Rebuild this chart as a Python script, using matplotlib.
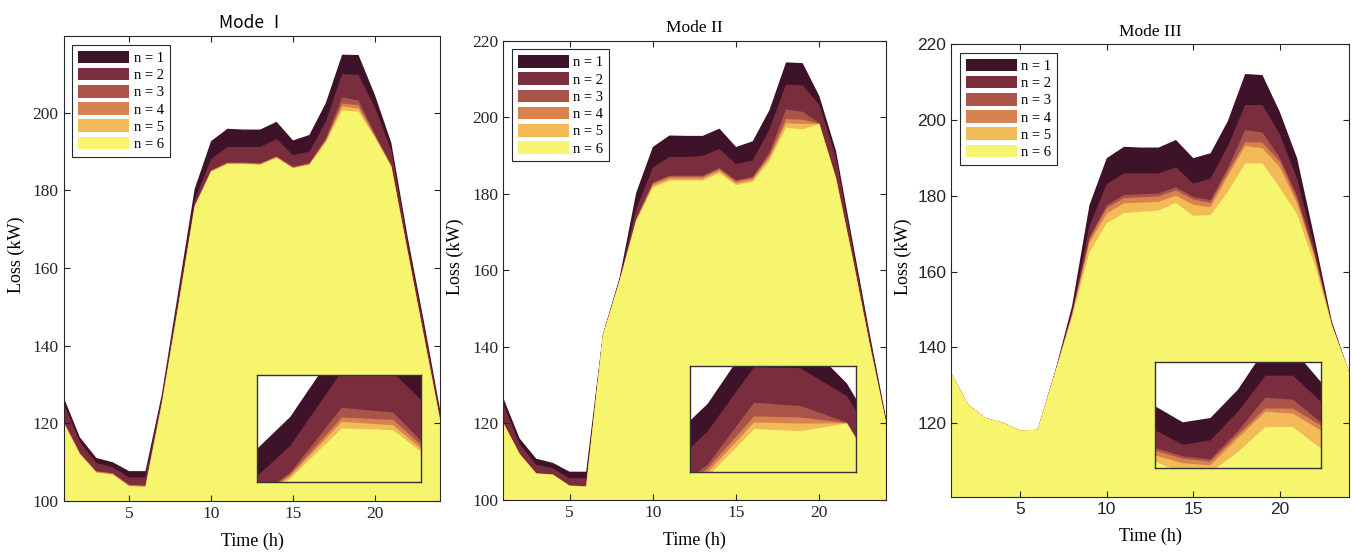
import numpy as np
import matplotlib
matplotlib.use("Agg")
import matplotlib.pyplot as plt
from matplotlib.patches import Patch

hours = list(range(1, 25))
labels = ["n = 1", "n = 2", "n = 3", "n = 4", "n = 5", "n = 6"]
colors = ["#3e1228", "#792d3d", "#ab5449", "#d8834f", "#f2bb58", "#f7f56e"]

# Mode I
m1_n1 = [126.8, 116.4, 111.1, 110.0, 107.7, 107.7, 127.5, 154.0, 180.4, 192.7, 195.9, 195.7,
         195.7, 197.7, 192.9, 194.3, 202.5, 215.0, 214.9, 204.6, 192.3, 168.0, 146.0, 123.0]
m1_n2 = [125.2, 115.2, 109.8, 108.7, 106.1, 106.1, 126.5, 152.5, 177.5, 188.1, 191.2, 191.2,
         191.2, 193.3, 189.1, 190.0, 197.7, 210.0, 209.8, 201.4, 190.4, 166.5, 144.5, 122.0]
m1_n3 = [120.6, 112.4, 107.7, 107.2, 104.2, 104.0, 125.4, 150.4, 176.2, 185.2, 187.2, 187.2,
         187.0, 188.8, 186.1, 187.0, 193.3, 204.0, 203.2, 194.5, 186.5, 164.4, 142.4, 120.6]
m1_n4 = [120.5, 112.3, 107.6, 107.1, 104.1, 103.9, 125.3, 150.3, 176.1, 185.1, 187.1, 187.1,
         186.9, 188.7, 186.0, 186.9, 193.0, 202.4, 202.0, 194.2, 186.4, 164.3, 142.3, 120.5]
m1_n5 = [120.3, 112.1, 107.4, 106.9, 103.9, 103.7, 125.1, 150.1, 175.9, 184.9, 186.9, 186.9,
         186.7, 188.5, 185.8, 186.7, 192.7, 201.7, 201.1, 193.9, 186.2, 164.1, 142.1, 120.3]
m1_n6 = [120.2, 112.0, 107.3, 106.8, 103.8, 103.6, 125.0, 150.0, 175.8, 184.8, 186.8, 186.8,
         186.6, 188.4, 185.7, 186.6, 192.3, 200.6, 200.3, 193.6, 186.1, 164.0, 142.0, 120.2]

# Mode II
m2_n1 = [126.9, 116.1, 110.8, 109.7, 107.4, 107.4, 143.2, 158.0, 180.2, 192.2, 195.2, 195.1,
         195.1, 197.0, 192.2, 193.7, 201.8, 214.3, 214.1, 205.5, 191.2, 167.5, 144.0, 121.5]
m2_n2 = [125.3, 114.6, 109.2, 108.3, 105.7, 105.7, 143.1, 157.6, 176.0, 186.8, 189.6, 189.6,
         189.9, 191.7, 187.7, 188.7, 196.8, 208.5, 208.3, 203.2, 189.4, 166.0, 143.0, 121.0]
m2_n3 = [120.4, 112.1, 107.0, 106.7, 103.8, 103.6, 143.0, 157.3, 173.5, 182.9, 184.7, 184.7,
         184.7, 186.7, 183.5, 184.4, 190.7, 202.0, 201.4, 198.4, 184.3, 163.4, 141.3, 120.4]
m2_n4 = [120.4, 112.1, 107.0, 106.7, 103.8, 103.6, 143.0, 157.2, 173.3, 182.6, 184.4, 184.4,
         184.4, 186.4, 183.2, 184.1, 190.0, 199.5, 199.3, 198.3, 184.2, 163.3, 141.2, 120.4]
m2_n5 = [120.3, 112.0, 106.9, 106.6, 103.7, 103.5, 142.9, 157.1, 173.0, 182.1, 183.9, 183.9,
         183.9, 185.9, 182.7, 183.6, 189.3, 198.4, 198.2, 198.25, 184.1, 163.2, 141.1, 120.3]
m2_n6 = [120.3, 112.0, 106.9, 106.6, 103.7, 103.5, 142.9, 157.1, 172.8, 181.6, 183.4, 183.4,
         183.4, 185.4, 182.2, 183.1, 188.5, 197.2, 196.8, 198.2, 183.9, 163.0, 141.0, 120.3]

# Mode III
m3_n1 = [133.3, 124.9, 121.4, 120.2, 118.1, 118.3, 133.4, 151.0, 177.5, 189.9, 192.9, 192.7,
         192.7, 194.7, 189.9, 191.2, 199.7, 212.1, 211.8, 202.1, 189.9, 169.0, 147.0, 133.5]
m3_n2 = [133.3, 124.9, 121.4, 120.2, 118.1, 118.3, 133.3, 149.5, 172.0, 183.1, 185.9, 185.9,
         185.9, 187.5, 183.2, 184.5, 193.1, 203.9, 203.9, 196.2, 184.5, 166.5, 146.5, 133.5]
m3_n3 = [133.3, 124.9, 121.4, 120.2, 118.1, 118.3, 133.2, 149.0, 169.0, 177.5, 180.2, 180.4,
         180.6, 182.2, 179.7, 178.8, 187.3, 197.3, 196.7, 190.0, 180.0, 165.0, 146.2, 133.5]
m3_n4 = [133.3, 124.9, 121.4, 120.2, 118.1, 118.3, 133.2, 148.8, 168.5, 176.7, 179.4, 179.6,
         179.8, 181.4, 179.0, 178.1, 186.2, 194.1, 194.0, 189.0, 179.0, 164.5, 146.1, 133.5]
m3_n5 = [133.3, 124.9, 121.4, 120.2, 118.1, 118.3, 133.1, 148.5, 167.5, 175.3, 178.0, 178.2,
         178.4, 180.0, 177.6, 177.0, 185.2, 193.1, 192.5, 187.5, 178.0, 164.0, 146.0, 133.5]
m3_n6 = [133.3, 124.9, 121.4, 120.2, 118.1, 118.3, 133.1, 148.0, 165.0, 172.8, 175.4, 175.8,
         176.1, 178.1, 174.7, 174.9, 181.0, 188.5, 188.5, 182.1, 175.1, 162.0, 145.8, 133.5]

modes = [
    ("Mode \u2160", [m1_n1, m1_n2, m1_n3, m1_n4, m1_n5, m1_n6]),
    ("Mode II", [m2_n1, m2_n2, m2_n3, m2_n4, m2_n5, m2_n6]),
    ("Mode III", [m3_n1, m3_n2, m3_n3, m3_n4, m3_n5, m3_n6]),
]
yticks = [[100, 120, 140, 160, 180, 200],
          [100, 120, 140, 160, 180, 200, 220],
          [120, 140, 160, 180, 200, 220]]

serif = ["Liberation Serif", "DejaVu Serif"]
sans = ["Liberation Sans", "DejaVu Sans"]
cjk = ["Noto Sans CJK SC", "DejaVu Sans"]

ax_pos = [[0.0470, 0.0940, 0.2788, 0.8409],
          [0.3720, 0.0958, 0.2833, 0.8309],
          [0.7034, 0.1013, 0.2944, 0.8192]]
ylims = [(100, 219.8), (100, 220), (100.6, 220)]
ylabel_x = [-0.103, -0.102, -0.098]
inset_pos = [[0.1899, 0.1289, 0.1213, 0.1929],
             [0.5104, 0.1470, 0.1226, 0.1911],
             [0.8545, 0.1537, 0.1223, 0.1911]]
inset_xlim = [(16.35, 19.53), (16.62, 20.19), (14.0, 20.0)]
inset_ylim = [(191.8, 209.4), (189.4, 208.7), (176.2, 207.9)]
tick_fonts = [serif, serif, sans]
title_fonts = [cjk, serif, serif]

fig = plt.figure(figsize=(13.52, 5.53), dpi=100)

for k, (title, series) in enumerate(modes):
    ax = fig.add_axes(ax_pos[k])
    for vals, c in zip(series, colors):
        ax.fill_between(hours, 0, vals, color=c, lw=0)
    ax.set_xlim(1, 24)
    ax.set_ylim(*ylims[k])
    ax.set_xticks([5, 10, 15, 20])
    ax.set_yticks(yticks[k])
    ax.tick_params(direction="in", top=True, right=True, length=4, width=0.8,
                   colors="#262626", labelsize=12.5)
    for lab in ax.get_xticklabels() + ax.get_yticklabels():
        lab.set_family(tick_fonts[k])
    for s in ax.spines.values():
        s.set_linewidth(0.8)
        s.set_color("#262626")
    ax.set_xlabel("Time (h)", family=serif, fontsize=13, labelpad=8)
    ax.set_ylabel("Loss (kW)", family=serif, fontsize=13)
    ax.yaxis.set_label_coords(ylabel_x[k], 0.53)
    ax.set_title(title, family=title_fonts[k], fontsize=12.5, pad=6)

    handles = [Patch(facecolor=c, edgecolor="none") for c in colors]
    leg = ax.legend(handles, labels, loc="upper left", prop={"family": serif, "size": 10.5},
                    handlelength=3.5, handleheight=0.95, handletextpad=0.3,
                    labelspacing=0.2, borderpad=0.4, borderaxespad=0.6,
                    fancybox=False, framealpha=1)
    leg.get_frame().set_edgecolor("#262626")
    leg.get_frame().set_linewidth(0.8)

    ins = fig.add_axes(inset_pos[k])
    for vals, c in zip(series, colors):
        ins.fill_between(hours, 0, vals, color=c, lw=0)
    ins.set_xlim(*inset_xlim[k])
    ins.set_ylim(*inset_ylim[k])
    ins.set_xticks([])
    ins.set_yticks([])
    for s in ins.spines.values():
        s.set_linewidth(1.0)
        s.set_color("#333333")

fig.savefig("out.png", dpi=100)
